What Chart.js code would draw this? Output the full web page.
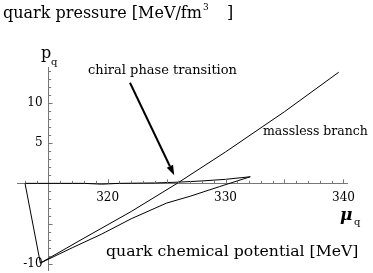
<!DOCTYPE html>
<html>
<head>
<meta charset="utf-8">
<script src="https://cdn.jsdelivr.net/npm/chart.js@4/dist/chart.umd.min.js"></script>
<style>
  html, body { margin: 0; padding: 0; background: #fff; }
  #wrap { width: 373px; height: 273px; }
</style>
</head>
<body>
<div id="wrap"><canvas id="chart"></canvas></div>
<script>
// broken phase, stable part (nearly flat p ~ 0)
const stableMu = [313.0, 318, 319.5, 321, 324, 326, 328, 330, 332.1];
const stableP = [0, 0, -0.1, 0, 0.05, 0.15, 0.3, 0.5, 0.82];
// lower branch back to the cusp
const unstableMu = [332.1, 329.5, 327, 325, 322, 319.5, 317, 314.3];
const unstableP = [0.82, -0.4, -1.6, -2.45, -4.4, -6.3, -8.0, -9.9];
// left edge from cusp up to p = 0
const edgeMu = [314.3, 313.0];
const edgeP = [-9.9, 0];
// massless branch
const masslessMu = [314.3, 318, 322, 325.9, 330, 335, 339.6];
const masslessP = [-9.9, -6.8, -3.5, 0, 3.9, 8.9, 13.8];

const xTickLabels = [320, 330, 340];
const yTickLabels = [-10, 5, 10];

// arrow pointing at the transition (mu, p)
const arrowFrom = [321.9, 12.5];
const arrowTo = [325.65, 1.0];

const SERIF = "'DejaVu Serif', serif";

const pts = (xs, ys) => xs.map((x, i) => ({ x: x, y: ys[i] }));
const line = (xs, ys) => ({
  data: pts(xs, ys),
  showLine: true,
  borderColor: '#000',
  borderWidth: 1,
  pointRadius: 0,
  tension: 0,
  fill: false
});
const hasTick = (list, v) => list.some(t => Math.abs(t - v) < 1e-6);
const noPadding = s => { s.paddingTop = 0; s.paddingBottom = 0; s.paddingLeft = 0; s.paddingRight = 0; };

const axisTicks = {
  id: 'axisTicks',
  afterDatasetsDraw(chart) {
    const { ctx, scales: { x, y } } = chart;
    const x0 = x.getPixelForValue(315);
    const y0 = y.getPixelForValue(0);
    ctx.save();
    ctx.strokeStyle = '#777';
    ctx.lineWidth = 1;
    ctx.beginPath();
    for (let v = 313; v <= 340; v++) {
      if (v === 315) continue;
      const px = Math.round(x.getPixelForValue(v)) + 0.5;
      const len = v % 5 === 0 ? 4 : 2.5;
      ctx.moveTo(px, y0);
      ctx.lineTo(px, y0 - len);
    }
    for (let v = -10; v <= 14; v++) {
      if (v === 0) continue;
      const py = Math.round(y.getPixelForValue(v)) + 0.5;
      const len = v % 5 === 0 ? 4 : 2.5;
      ctx.moveTo(x0, py);
      ctx.lineTo(x0 + len, py);
    }
    ctx.stroke();
    ctx.restore();
  }
};

const labels = {
  id: 'labels',
  afterDraw(chart) {
    const { ctx, scales: { x, y } } = chart;
    ctx.save();
    ctx.fillStyle = '#000';
    ctx.textBaseline = 'alphabetic';
    ctx.textAlign = 'left';

    // title
    ctx.font = '16px ' + SERIF;
    const t1 = 'quark pressure [MeV/fm';
    ctx.fillText(t1, 3, 18);
    const tx = 3 + ctx.measureText(t1).width + 1;
    ctx.font = '9px ' + SERIF;
    ctx.fillText('3', tx, 10);
    ctx.font = '16px ' + SERIF;
    ctx.fillText(']', tx + 24, 18);

    // y axis name
    ctx.font = '16px ' + SERIF;
    ctx.fillText('p', 41, 58);
    ctx.font = '10px ' + SERIF;
    ctx.fillText('q', 51, 65);

    // x axis name
    ctx.font = 'bold italic 17px ' + SERIF;
    ctx.fillText('\u03bc', 340, 220);
    ctx.font = '10px ' + SERIF;
    ctx.fillText('q', 354, 225);

    ctx.font = '15.7px ' + SERIF;
    ctx.fillText('quark chemical potential [MeV]', 106, 256);

    ctx.font = '13px ' + SERIF;
    ctx.fillText('chiral phase transition', 88, 74);
    ctx.font = '12.5px ' + SERIF;
    ctx.fillText('massless branch', 263, 135);

    // arrow
    const ax1 = x.getPixelForValue(arrowFrom[0]), ay1 = y.getPixelForValue(arrowFrom[1]);
    const ax2 = x.getPixelForValue(arrowTo[0]), ay2 = y.getPixelForValue(arrowTo[1]);
    const ang = Math.atan2(ay2 - ay1, ax2 - ax1);
    const head = 10, half = 3.5;
    const bx = ax2 - head * Math.cos(ang), by = ay2 - head * Math.sin(ang);
    ctx.strokeStyle = '#000';
    ctx.lineWidth = 2;
    ctx.beginPath();
    ctx.moveTo(ax1, ay1);
    ctx.lineTo(bx, by);
    ctx.stroke();
    ctx.beginPath();
    ctx.moveTo(ax2, ay2);
    ctx.lineTo(bx + half * Math.sin(ang), by - half * Math.cos(ang));
    ctx.lineTo(bx - half * Math.sin(ang), by + half * Math.cos(ang));
    ctx.closePath();
    ctx.fill();
    ctx.restore();
  }
};

new Chart(document.getElementById('chart'), {
  type: 'scatter',
  data: {
    datasets: [
      line(stableMu, stableP),
      line(unstableMu, unstableP),
      line(edgeMu, edgeP),
      line(masslessMu, masslessP)
    ]
  },
  options: {
    responsive: true,
    maintainAspectRatio: false,
    animation: false,
    layout: { padding: { left: 17, right: 26, top: 67, bottom: 3 } },
    scales: {
      x: {
        type: 'linear',
        min: 312.32,
        max: 340.3,
        position: { y: 0 },
        afterFit: noPadding,
        grid: { display: false, drawTicks: false },
        border: { display: true, color: '#777', width: 1 },
        ticks: {
          stepSize: 1,
          maxTicksLimit: 100,
          autoSkip: false,
          includeBounds: false,
          maxRotation: 0,
          padding: 7,
          color: '#000',
          font: { family: SERIF, size: 12 },
          callback: v => hasTick(xTickLabels, v) ? String(Math.round(v)) : ''
        }
      },
      y: {
        type: 'linear',
        min: -10.76,
        max: 14.45,
        position: { x: 315 },
        afterFit: noPadding,
        grid: { display: false, drawTicks: false },
        border: { display: true, color: '#777', width: 1 },
        ticks: {
          stepSize: 1,
          maxTicksLimit: 100,
          autoSkip: false,
          includeBounds: false,
          color: '#000',
          font: { family: SERIF, size: 12 },
          // trailing en space keeps the labels clear of the axis line
          callback: v => hasTick(yTickLabels, v) ? String(Math.round(v)) + '\u2002' : ''
        }
      }
    },
    plugins: {
      legend: { display: false },
      tooltip: { enabled: false }
    }
  },
  plugins: [axisTicks, labels]
});
</script>
</body>
</html>
